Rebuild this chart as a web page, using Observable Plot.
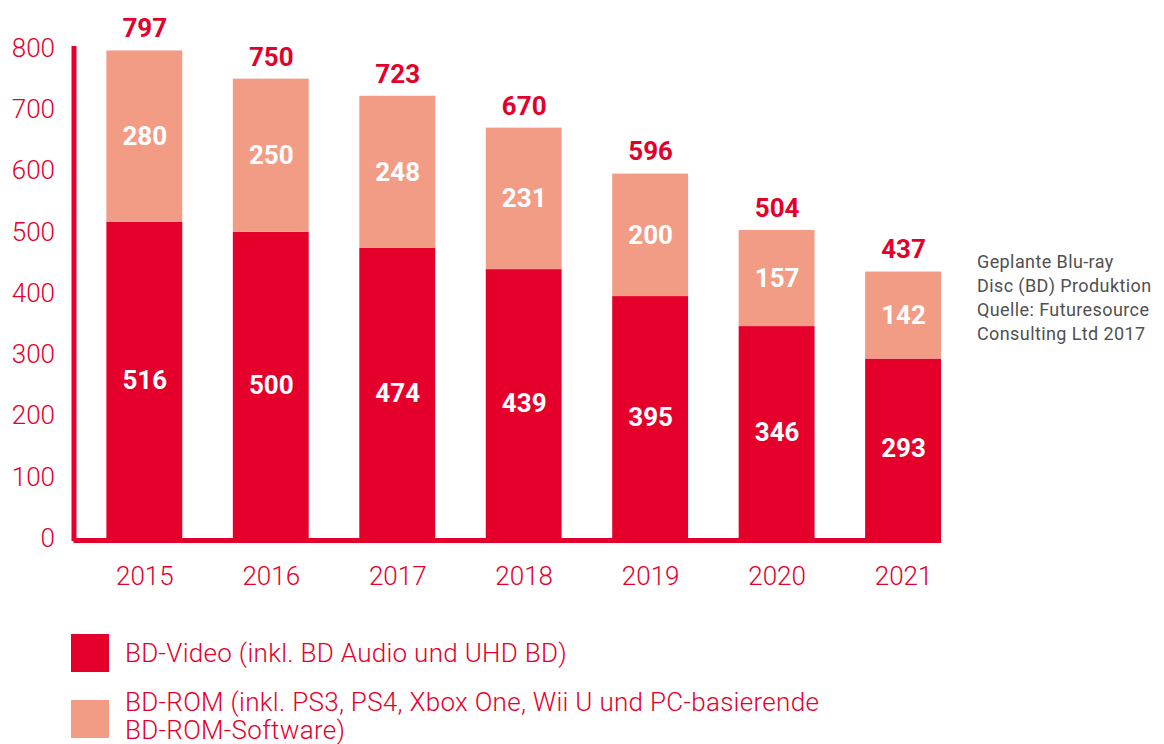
<!DOCTYPE html>
<html>
<head>
<meta charset="utf-8">
<script src="https://cdn.jsdelivr.net/npm/d3@7"></script>
<script src="https://cdn.jsdelivr.net/npm/@observablehq/plot@0.6"></script>
<style>
  html, body { margin: 0; padding: 0; background: #fff; }
  #wrap { position: relative; width: 1164px; height: 744px; overflow: hidden; font-family: Roboto, "Noto Sans", sans-serif; }
  #chart { position: absolute; left: 0; top: 0; }
  .legend { position: absolute; left: 71px; color: #e4002b; font-weight: 300; font-size: 26px; line-height: 28px; letter-spacing: 0.3px; }
  .legend .sw { position: absolute; left: 0; top: 0; width: 38px; height: 38px; }
  .legend .lbl { position: absolute; left: 54px; white-space: nowrap; }
  #note { position: absolute; left: 977px; top: 250px; color: #505050; font-size: 18px; line-height: 24px; font-weight: 400; letter-spacing: 0.4px; white-space: nowrap; }
</style>
</head>
<body>
<div id="wrap">
  <div id="chart"></div>
  <div id="legend"></div>
  <div id="note"></div>
</div>
<script>
const years = ["2015", "2016", "2017", "2018", "2019", "2020", "2021"];
const videoValues = [516, 500, 474, 439, 395, 346, 293];
const romValues = [280, 250, 248, 231, 200, 157, 142];
const totalValues = [797, 750, 723, 670, 596, 504, 437];
const yTicks = [0, 100, 200, 300, 400, 500, 600, 700, 800];
const seriesNames = ["BD-Video (inkl. BD Audio und UHD BD)", "BD-ROM (inkl. PS3, PS4, Xbox One, Wii U und PC-basierende BD-ROM-Software)"];
const seriesLegend = ["BD-Video (inkl. BD Audio und UHD BD)", "BD-ROM (inkl. PS3, PS4, Xbox One, Wii U und PC-basierende<br>BD-ROM-Software)"];
const noteLines = ["Geplante Blu-ray", "Disc (BD) Produktion", "Quelle: Futuresource", "Consulting Ltd 2017"];

const RED = "#e4002b";
const SALMON = "#f29c86";

const rows = [];
years.forEach((yr, i) => {
  rows.push({year: yr, series: seriesNames[0], value: videoValues[i]});
  rows.push({year: yr, series: seriesNames[1], value: romValues[i]});
});
const totals = years.map((yr, i) => ({year: yr, total: totalValues[i]}));

const chart = Plot.plot({
  width: 1164,
  height: 610,
  marginTop: 48,
  marginBottom: 72,
  marginLeft: 73.5,
  marginRight: 223,
  x: {domain: years, paddingInner: 0.4, paddingOuter: 0.13, align: 1, round: false, label: null},
  y: {domain: [0, 800], label: null},
  color: {domain: seriesNames, range: [RED, SALMON]},
  style: {fontFamily: "Roboto, 'Noto Sans', sans-serif", color: RED, background: "white", overflow: "visible"},
  marks: [
    Plot.barY(rows, {x: "year", y: "value", fill: "series", z: "series", order: seriesNames}),
    Plot.text(rows, Plot.stackY({x: "year", y: "value", z: "series", text: "value", order: seriesNames, fill: "white", fontSize: 26, fontWeight: 700})),
    Plot.text(totals, {x: "year", y: "total", text: "total", fill: RED, fontSize: 26, fontWeight: 700, lineAnchor: "bottom", dy: -13}),
    Plot.ruleY([0], {stroke: RED, strokeWidth: 5, dy: 2}),
    Plot.frame({anchor: "left", stroke: RED, strokeWidth: 5}),
    Plot.axisY({ticks: yTicks, tickSize: 0, tickPadding: 19, fontSize: 26, fontWeight: 300, label: null}),
    Plot.axisX({tickSize: 0, tickPadding: 28, fontSize: 26, fontWeight: 300, label: null})
  ]
});
document.getElementById("chart").appendChild(chart);

const legend = document.getElementById("legend");
[[634, RED, seriesLegend[0], 5], [700, SALMON, seriesLegend[1], -12]].forEach(([top, col, txt, off]) => {
  const d = document.createElement("div");
  d.className = "legend";
  d.style.top = top + "px";
  d.innerHTML = `<div class="sw" style="background:${col}"></div><div class="lbl" style="top:${off}px">${txt}</div>`;
  legend.appendChild(d);
});
document.getElementById("note").innerHTML = noteLines.join("<br>");
</script>
</body>
</html>
